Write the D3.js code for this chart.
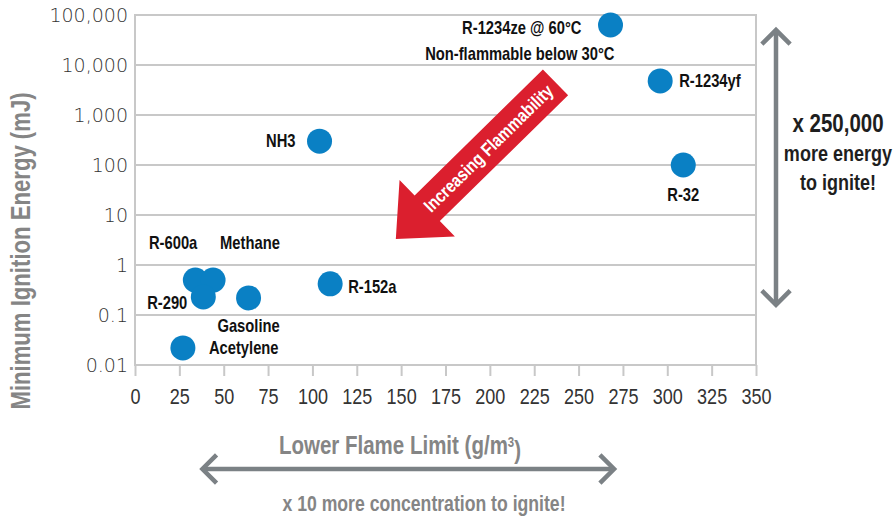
<!DOCTYPE html>
<html>
<head>
<meta charset="utf-8">
<script src="https://cdn.jsdelivr.net/npm/d3@7"></script>
<style>
  body { margin: 0; background: #fff; }
  svg { display: block; }
  .narrow { font-family: "Liberation Sans", Arial, sans-serif; }
</style>
</head>
<body>
<svg width="895" height="518"></svg>
<script>
// refrigerants and fuels
var categories = ["R-1234ze", "R-1234yf", "R-32", "NH3", "R-152a", "R-600a", "Methane", "R-290", "Gasoline", "Acetylene"];
var lflValues = [268, 296, 309, 104, 110, 34, 44, 38.5, 64, 27];
var mieValues = [63000, 4800, 100, 300, 0.42, 0.5, 0.5, 0.23, 0.22, 0.022];
var pointLabels = [["R-1234ze @ 60°C", "Non-flammable below 30°C"], ["R-1234yf"], ["R-32"], ["NH3"], ["R-152a"],
                   ["R-600a"], ["Methane"], ["R-290"], ["Gasoline"], ["Acetylene"]];

var xTicks = [0, 25, 50, 75, 100, 125, 150, 175, 200, 225, 250, 275, 300, 325, 350];
var yTicks = [0.01, 0.1, 1, 10, 100, 1000, 10000, 100000];

// label offsets from each dot (px): [dx, dy, anchor] per line
var labelPlacement = [
  [[-29, 3, "end"], [4, 29, "end"]],
  [[19, 0, "start"]],
  [[0, 30, "middle"]],
  [[-24, 0, "end"]],
  [[18, 3, "start"]],
  [[2, -37, "end"]],
  [[7, -37, "start"]],
  [[-16, 6, "end"]],
  [[0, 28, "middle"]],
  [[26, 0, "start"]]
];

var width = 895;
var height = 518;
var mLeft = 135, mRight = 756, mTop = 15, mBottom = 365;
var squeeze = 0.82;   // narrow look, like Arial Narrow

var x = d3.scaleLinear().domain([0, 350]).range([mLeft, mRight]);
var y = d3.scaleLog().domain([0.01, 100000]).range([mBottom, mTop]);

var svg = d3.select('svg');

// text in a condensed style: translate, then squeeze horizontally
function narrowText(parent, px, py, str, size, weight, fill, anchor, rot) {
  var g = parent.append('g')
    .attr('transform', 'translate(' + px + ',' + py + ')' + (rot ? ' rotate(' + rot + ')' : '') + ' scale(' + squeeze + ',1)');
  return g.append('text')
    .attr('class', 'narrow')
    .attr('dy', '0.35em')
    .attr('text-anchor', anchor || 'middle')
    .style('font-size', size + 'px')
    .style('font-weight', weight)
    .attr('fill', fill)
    .text(str);
}

// gridlines
svg.append('g')
  .selectAll('line')
  .data(yTicks)
  .enter()
  .append('line')
    .attr('x1', mLeft)
    .attr('x2', mRight)
    .attr('y1', d => y(d))
    .attr('y2', d => y(d))
    .attr('stroke', '#c8c8c8')
    .attr('stroke-width', 2);

// frame sides
[mLeft, mRight].forEach(function(v) {
  svg.append('line')
    .attr('x1', v).attr('x2', v)
    .attr('y1', mTop - 1).attr('y2', mBottom + 1)
    .attr('stroke', '#c8c8c8').attr('stroke-width', 2);
});

// x axis
var xAxis = svg.append('g')
  .attr('transform', 'translate(0,' + mBottom + ')')
  .call(d3.axisBottom(x).tickValues(xTicks).tickSize(11).tickPadding(12).tickFormat(d3.format('d')));
xAxis.select('.domain').remove();
xAxis.selectAll('line').attr('stroke', '#c8c8c8').attr('stroke-width', 2);
xAxis.selectAll('text')
  .attr('class', 'narrow')
  .attr('transform', 'scale(' + squeeze + ',1)')
  .style('font-size', '22px')
  .attr('fill', '#333');

// y axis
var yAxis = svg.append('g')
  .attr('transform', 'translate(' + mLeft + ',0)')
  .call(d3.axisLeft(y).tickValues(yTicks).tickSize(0).tickPadding(7).tickFormat(d3.format(',')));
yAxis.select('.domain').remove();
yAxis.selectAll('text')
  .style('font-family', '"DejaVu Sans", sans-serif')
  .style('font-weight', 200)
  .style('font-size', '19px')
  .attr('fill', '#333');

// axis titles
var xTitle = narrowText(svg, 400, 445, 'Lower Flame Limit (g/m', 25, 'bold', '#858585');
xTitle.append('tspan').attr('dy', '-0.45em').style('font-size', '14px').text('3');
xTitle.append('tspan').attr('dy', '0.45em').text(')');

narrowText(svg, 21, 251, 'Minimum Ignition Energy (mJ)', 27, 'bold', '#858585', 'middle', -90);

// red "increasing flammability" arrow, tail and tip in data space
var arrowTail = [237, 4500];
var arrowTip = [147, 3.3];
var tx = x(arrowTail[0]), ty = y(arrowTail[1]);
var px = x(arrowTip[0]), py = y(arrowTip[1]);
var len = Math.hypot(px - tx, py - ty);
var ang = Math.atan2(py - ty, px - tx) * 180 / Math.PI;
var headLen = 44, headW = 79, shaftW = 36;
var arrowG = svg.append('g')
  .attr('transform', 'translate(' + tx + ',' + ty + ') rotate(' + ang + ')');
arrowG.append('path')
  .attr('d', 'M0,' + (-shaftW / 2) +
             'L' + (len - headLen) + ',' + (-shaftW / 2) +
             'L' + (len - headLen) + ',' + (-headW / 2) +
             'L' + len + ',0' +
             'L' + (len - headLen) + ',' + (headW / 2) +
             'L' + (len - headLen) + ',' + (shaftW / 2) +
             'L0,' + (shaftW / 2) + 'Z')
  .attr('fill', '#db1f2e');
narrowText(arrowG, 94, 0, 'Increasing Flammability', 18.5, 'bold', '#fff', 'middle', 180);

// gray double arrows
function doubleArrow(x1, y1, x2, y2) {
  var g = svg.append('g');
  var a = Math.atan2(y2 - y1, x2 - x1);
  var arm = 20, spread = Math.PI / 4;
  g.append('line')
    .attr('x1', x1).attr('y1', y1).attr('x2', x2).attr('y2', y2);
  [[x1, y1, a], [x2, y2, a + Math.PI]].forEach(function(e) {
    g.append('path')
      .attr('d', 'M' + (e[0] + arm * Math.cos(e[2] - spread)) + ',' + (e[1] + arm * Math.sin(e[2] - spread)) +
                 'L' + e[0] + ',' + e[1] +
                 'L' + (e[0] + arm * Math.cos(e[2] + spread)) + ',' + (e[1] + arm * Math.sin(e[2] + spread)));
  });
  g.selectAll('line, path')
    .attr('fill', 'none')
    .attr('stroke', '#7b8185')
    .attr('stroke-width', 4.5);
}
doubleArrow(mRight + 20, y(50000), mRight + 20, y(0.16));
doubleArrow(x(38), 469, x(270), 469);

narrowText(svg, 838, 123, 'x 250,000', 25, 'bold', '#1e1e1e');
narrowText(svg, 838, 153, 'more energy', 22, 'bold', '#1e1e1e');
narrowText(svg, 838, 182, 'to ignite!', 22, 'bold', '#1e1e1e');

narrowText(svg, 424, 503, 'x 10 more concentration to ignite!', 21.5, 'bold', '#858585');

// dots
svg.append('g')
  .selectAll('circle')
  .data(categories)
  .enter()
  .append('circle')
    .attr('cx', (d, i) => x(lflValues[i]))
    .attr('cy', (d, i) => y(mieValues[i]))
    .attr('r', 12.5)
    .attr('fill', '#0a80c4');

// point labels
categories.forEach(function(c, i) {
  pointLabels[i].forEach(function(t, j) {
    var p = labelPlacement[i][j];
    narrowText(svg, x(lflValues[i]) + p[0], y(mieValues[i]) + p[1], t, 18, 'bold', '#111', p[2]);
  });
});
</script>
</body>
</html>
